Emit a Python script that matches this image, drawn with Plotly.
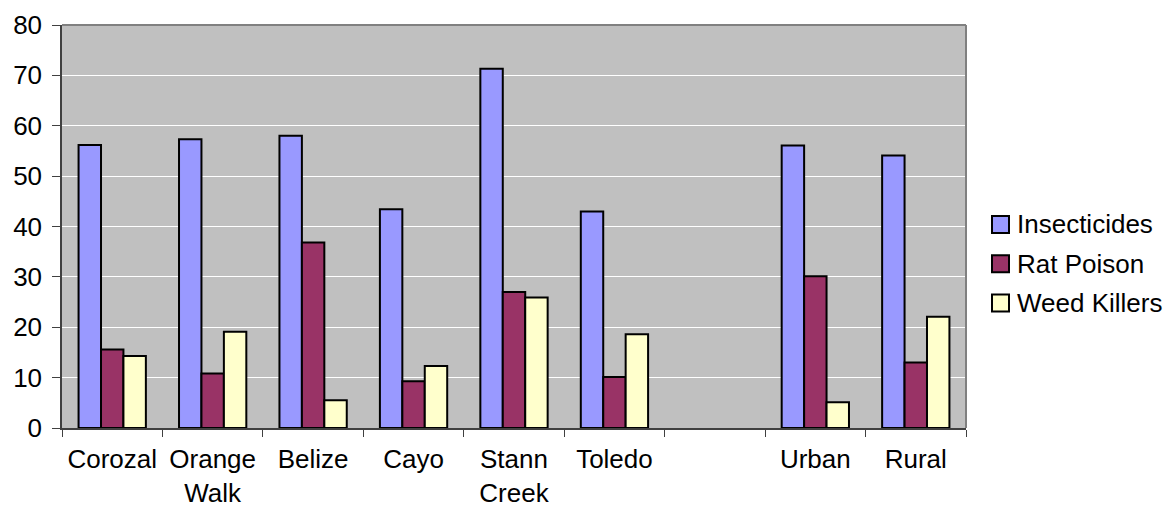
import plotly.graph_objects as go

# Districts and area types; the empty slot separates the two groups
categories = ["Corozal", "Orange<br>Walk", "Belize", "Cayo", "Stann<br>Creek",
              "Toledo", " ", "Urban", "Rural"]

insecticides = [56.2, 57.3, 58.0, 43.4, 71.3, 43.0, None, 56.1, 54.1]
rat_poison = [15.6, 10.8, 36.8, 9.3, 27.0, 10.1, None, 30.1, 13.0]
weed_killers = [14.3, 19.1, 5.5, 12.3, 25.9, 18.6, None, 5.1, 22.1]

y_ticks = [0, 10, 20, 30, 40, 50, 60, 70, 80]

series_names = ["Insecticides", "Rat Poison", "Weed Killers"]
series_values = [insecticides, rat_poison, weed_killers]
series_colors = ["#9999FF", "#993366", "#FFFFCC"]

font_family = "Liberation Sans, Arial, sans-serif"
font_size = 26

W, H = 1168, 508
M_L, M_R, M_T, M_B = 62, 202, 25, 80
plot_w = W - M_L - M_R
plot_h = H - M_T - M_B

fig = go.Figure()
for name, values, color in zip(series_names, series_values, series_colors):
    fig.add_trace(go.Bar(
        name=name,
        x=categories,
        y=values,
        marker=dict(color=color, line=dict(color="black", width=2)),
        showlegend=False,
    ))

fig.update_layout(
    width=W,
    height=H,
    margin=dict(l=M_L, r=M_R, t=M_T, b=M_B),
    paper_bgcolor="white",
    plot_bgcolor="#C0C0C0",
    barmode="group",
    bargap=0.33,
    bargroupgap=0,
    font=dict(family=font_family, size=font_size, color="black"),
    showlegend=False,
)

fig.update_xaxes(
    type="category",
    tickson="boundaries",
    ticks="outside",
    ticklen=7,
    tickcolor="#404040",
    tickwidth=1,
    showline=True,
    linecolor="#404040",
    linewidth=1.5,
    showgrid=False,
    tickangle=0,
    ticklabelstandoff=7,
    automargin=False,
)

fig.update_yaxes(
    range=[0, 80],
    tickvals=y_ticks,
    ticks="outside",
    ticklen=8,
    tickcolor="#404040",
    showline=True,
    linecolor="#404040",
    linewidth=1.5,
    showgrid=True,
    gridcolor="white",
    gridwidth=1,
    zeroline=False,
    ticklabelstandoff=5,
    automargin=False,
)

# Grey frame along the top and right of the plotting area
fig.add_shape(type="line", xref="paper", yref="paper", x0=0, x1=1, y0=1, y1=1,
              line=dict(color="#808080", width=2))
fig.add_shape(type="line", xref="paper", yref="paper", x0=1, x1=1, y0=0, y1=1,
              line=dict(color="#808080", width=2))

# Legend: colour swatches with labels to the right of the plot
def px_x(px):
    return (px - M_L) / plot_w

def px_y(py):
    return (H - M_B - py) / plot_h

swatch = 17
legend_left = 992
legend_top_center = 224.5
legend_step = 39.3
for i, (name, color) in enumerate(zip(series_names, series_colors)):
    cy = legend_top_center + i * legend_step
    fig.add_shape(type="rect", xref="paper", yref="paper",
                  x0=px_x(legend_left), x1=px_x(legend_left + swatch),
                  y0=px_y(cy + swatch / 2), y1=px_y(cy - swatch / 2),
                  fillcolor=color, line=dict(color="black", width=2))
    fig.add_annotation(xref="paper", yref="paper",
                       x=px_x(legend_left + swatch + 6), y=px_y(cy),
                       xanchor="left", yanchor="middle", showarrow=False,
                       text=name, font=dict(size=font_size, color="black"))

fig.write_html("out.html")
